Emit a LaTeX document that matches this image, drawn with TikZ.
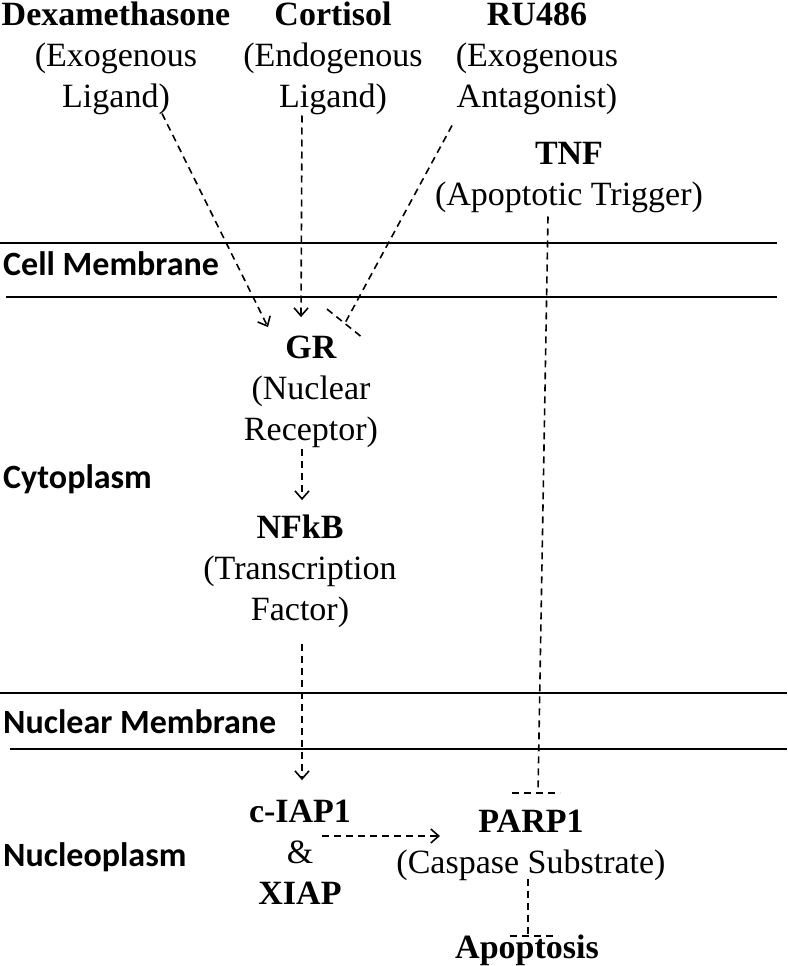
\documentclass[tikz,border=0pt]{standalone}
\usepackage{fontspec}
\setmainfont{Liberation Serif}
\newfontfamily\labfont{Carlito}
\usetikzlibrary{arrows.meta,calc}
\tikzset{
  ent/.style={anchor=base, inner sep=0pt, font=\fontsize{34}{41}\selectfont},
  region/.style={anchor=base west, inner sep=0pt, font=\labfont\bfseries\fontsize{34}{41}\selectfont},
  membrane/.style={line width=2pt},
  act/.style={line width=1.6pt, dash pattern=on 7pt off 5pt, -{Straight Barb[length=8pt,width=14pt,line width=1.6pt]}},
  inh/.style={line width=1.6pt, dash pattern=on 7pt off 5pt},
}
\newcommand{\stack}[1]{\begin{tabular}[t]{@{}c@{}}#1\end{tabular}}
\begin{document}
\begin{tikzpicture}[x=1pt,y=-1pt]
\useasboundingbox (0,0) rectangle (787,966);
% membranes
\draw[membrane] (0,243) -- (777,243);
\draw[membrane] (6,297) -- (777,297);
\draw[membrane] (0,693) -- (787,693);
\draw[membrane] (10,749) -- (787,749);
% region labels
\node[region] (lcm) at (3,275) {Cell Membrane};
\node[region] (lcy) at (3,488) {Cytoplasm};
\node[region] (lnm) at (3,733) {Nuclear Membrane};
\node[region] (lnp) at (3,866) {Nucleoplasm};
% entities
\node[ent] (dexa) at (116,26) {\stack{\textbf{Dexamethasone}\\(Exogenous\\Ligand)}};
\node[ent] (cort) at (333,26) {\stack{\textbf{Cortisol}\\(Endogenous\\Ligand)}};
\node[ent] (ru) at (537,26) {\stack{\textbf{RU486}\\(Exogenous\\Antagonist)}};
\node[ent] (tnf) at (569,164) {\stack{\textbf{TNF}\\(Apoptotic Trigger)}};
\node[ent] (gr) at (311,358) {\stack{\textbf{GR}\\(Nuclear\\Receptor)}};
\node[ent] (nfkb) at (300,538) {\stack{\textbf{NFkB}\\(Transcription\\Factor)}};
\node[ent] (ciap) at (300,822) {\stack{\textbf{c-IAP1}\\\&\\\textbf{XIAP}}};
\node[ent] (parp) at (531,832) {\stack{\textbf{PARP1}\\(Caspase Substrate)}};
\node[ent] (apop) at (527,958) {\textbf{Apoptosis}};
% connectors
\draw[act] ($(dexa.south)+(46,-7)$) -- ($(gr.north)+(-43,-2)$);
\draw[act] ($(cort.south)+(-31,-5)$) -- ($(gr.north)+(-10,-12)$);
\coordinate (ruend) at ($(gr.north)+(34,-6)$);
\draw[inh] ($(ru.south)+(-85,5)$) -- (ruend);
\draw[inh] ($(ruend)+(-18,-14)$) -- ($(ruend)+(18,15)$);
\draw[act] ($(gr.south)+(-9,-4)$) -- ($(nfkb.north)+(2,-9)$);
\draw[act] ($(nfkb.south)+(2,11)$) -- ($(ciap.north)+(2,-13)$);
\draw[act] ($(ciap.base)+(22,14)$) -- ($(parp.base)+(-91,4)$);
\coordinate (tnfend) at ($(parp.north)+(7,-10)$);
\draw[inh] ($(tnf.south)+(-21,-1)$) -- (tnfend);
\draw[inh] ($(tnfend)+(-26,0)$) -- ($(tnfend)+(22,0)$);
\coordinate (apend) at ($(apop.north)+(1,2)$);
\draw[inh] ($(parp.south)+(-3,-7)$) -- (apend);
\draw[inh] ($(apend)+(-18,0)$) -- ($(apend)+(30,0)$);
\end{tikzpicture}
\end{document}
